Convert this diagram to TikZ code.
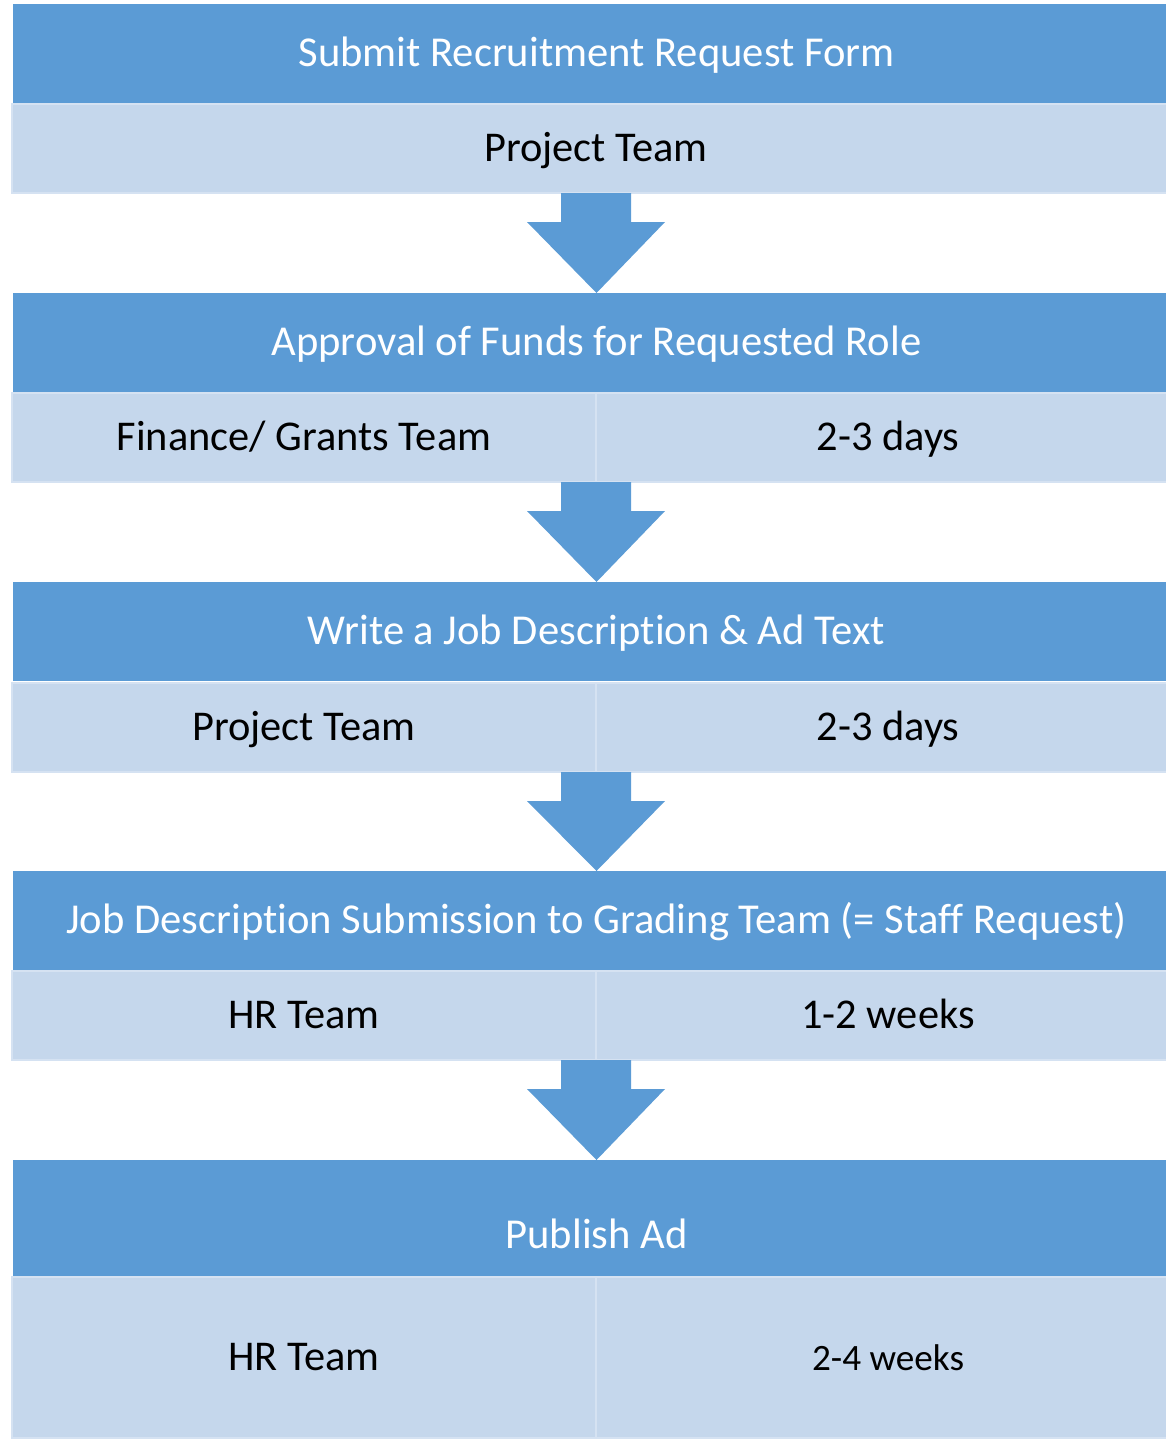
\documentclass[tikz,border=0pt]{standalone}
\usepackage{fontspec}
\setmainfont{Carlito}[Ligatures=NoCommon]
\usetikzlibrary{positioning,calc}
\definecolor{headblue}{HTML}{5B9BD5}
\definecolor{cellblue}{HTML}{C5D7EC}
\definecolor{celledge}{HTML}{D5E2F2}

\begin{document}
\begin{tikzpicture}[x=0.5pt, y=-0.5pt,
    every node/.style={inner sep=0pt, outer sep=0pt, anchor=north west},
    head/.style={fill=headblue, text=white, minimum width=583.5pt, minimum height=49.5pt, text height=17pt, text depth=4.5pt, font=\fontsize{21.3}{24}\selectfont},
    cell/.style={fill=cellblue, draw=celledge, line width=1pt, minimum height=44.5pt, text height=17pt, text depth=4.5pt, font=\fontsize{21.2}{24}\selectfont},
    wide/.style={cell, minimum width=584pt},
    half/.style={cell, minimum width=292pt}]
    \useasboundingbox (0,0) rectangle (1166,1440);

    % Steps
    \node[head] (h1) at (13,4) {Submit Recruitment Request Form};
    \node[wide] (s1) at (12,104) {Project Team};

    \node[head] (h2) at (13,293) {Approval of Funds for Requested Role};
    \node[half] (l2) at (12,393) {Finance/ Grants Team};
    \node[half] (r2) at (596,393) {2-3 days};

    \node[head] (h3) at (13,582) {Write a Job Description \& Ad Text};
    \node[half] (l3) at (12,683) {Project Team};
    \node[half] (r3) at (596,683) {2-3 days};

    \node[head] (h4) at (13,871) {Job Description Submission to Grading Team (= Staff Request)};
    \node[half] (l4) at (12,971) {HR Team};
    \node[half] (r4) at (596,971) {1-2 weeks};

    \node[head, minimum height=58pt, text height=35pt] (h5) at (13,1160) {Publish Ad};
    \node[half, minimum height=80.5pt] (l5) at (12,1277) {HR Team};
    \node[half, minimum height=80.5pt, font=\fontsize{18.6}{21}\selectfont] (r5) at (596,1277) {2-4 weeks};

    % Arrows
    \foreach \a/\b in {s1.south/h2, l2.south east/h3, l3.south east/h4, l4.south east/h5} {
        \fill[headblue] ($(\a)+(-35,0)$) -- ($(\a)+(35,0)$) -- ($(\a)+(35,29)$)
            -- ($(\a)+(69,29)$) -- (\b.north) -- ($(\a)+(-69,29)$)
            -- ($(\a)+(-35,29)$) -- cycle;
    }
\end{tikzpicture}
\end{document}
